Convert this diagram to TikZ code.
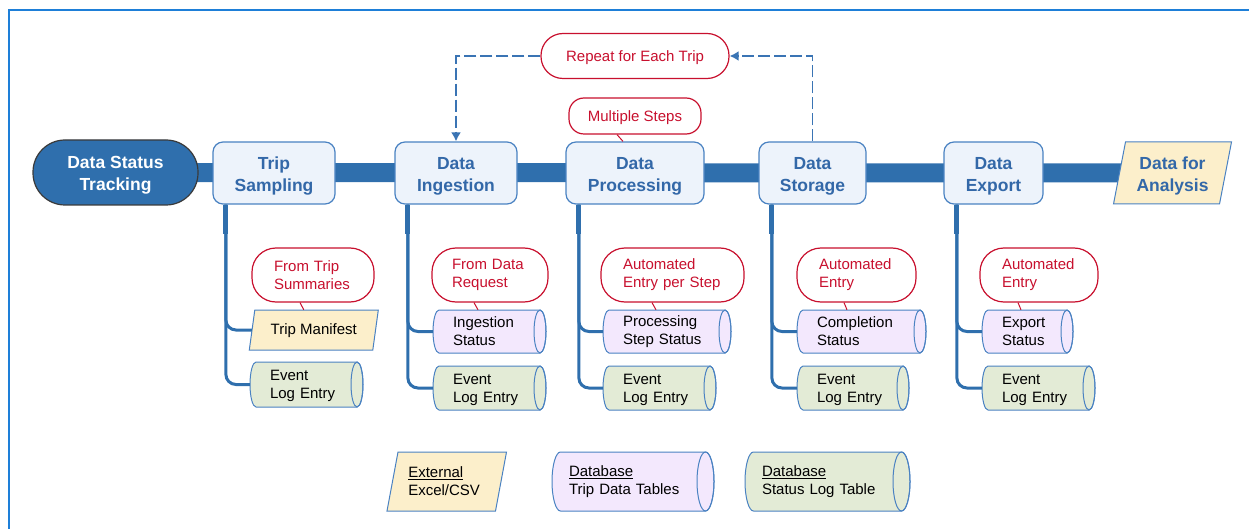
\documentclass[tikz,border=0pt]{standalone}
\usepackage{fontspec}
\setmainfont{Liberation Sans}
\usetikzlibrary{arrows.meta,backgrounds}
\definecolor{mainblue}{HTML}{2F6FAD}
\definecolor{boxfill}{HTML}{EDF3FB}
\definecolor{boxline}{HTML}{4A82C2}
\definecolor{labelblue}{HTML}{3368A8}
\definecolor{calloutred}{HTML}{C8102E}
\definecolor{yellowfill}{HTML}{FCEFCB}
\definecolor{lavfill}{HTML}{F3E8FD}
\definecolor{greenfill}{HTML}{E3EBD6}
\definecolor{framecol}{HTML}{1E7FD8}
\definecolor{darkedge}{HTML}{3A3A3A}
\definecolor{dashblue}{HTML}{3A74B4}
\newcommand\bigbold{\fontsize{17.5}{22}\selectfont\bfseries}
\newcommand\smalltxt{\fontsize{15}{18}\selectfont}
% lower a line of text without changing its box
\newcommand\lo[2][3pt]{\raisebox{-#1}[\height][\depth]{#2}}
% cylinder: cx, cy, w, h, fill, end x-radius
\newcommand\mycyl[6]{%
  \filldraw[cylline, fill=#5] ({#1+#3/2-#6},{#2-#4/2}) arc[start angle=90, end angle=-90, x radius=#6pt, y radius={#4/2*1pt}] -- ({#1-#3/2+#6},{#2+#4/2}) arc[start angle=270, end angle=90, x radius=#6pt, y radius={#4/2*1pt}] -- cycle;
  \draw[cylline] ({#1+#3/2-#6},{#2}) ellipse[x radius=#6pt, y radius={#4/2*1pt}];
}
% parallelogram: cx, cy, mid width, h, slant, fill
\newcommand\mypara[6]{%
  \filldraw[paraline, fill=#6] ({#1-#3/2-#5/2},{#2+#4/2}) -- ({#1+#3/2-#5/2},{#2+#4/2}) -- ({#1+#3/2+#5/2},{#2-#4/2}) -- ({#1-#3/2+#5/2},{#2-#4/2}) -- cycle;
}
\begin{document}
\begin{tikzpicture}[x=1pt, y=-1pt,
  cylline/.style={draw=boxline, line width=1pt},
  paraline/.style={draw=boxline, line width=1pt},
  startbox/.style={draw=darkedge, fill=mainblue, line width=1.2pt, rounded corners=32pt, minimum width=165pt, minimum height=65pt, inner sep=0pt, text=white, font=\bigbold, align=center},
  procbox/.style={draw=boxline, fill=boxfill, line width=1.2pt, rounded corners=10pt, minimum height=62pt, inner sep=0pt, align=center, text=labelblue, font=\bigbold},
  paratext/.style={inner sep=0pt, align=center},
  roundcall/.style={draw=calloutred, fill=white, line width=1.2pt, text=calloutred, font=\smalltxt, inner sep=0pt, align=center},
  callbox/.style={draw=calloutred, fill=white, line width=1.2pt, rounded corners=24pt, minimum height=54pt, text=calloutred, font=\smalltxt, align=left, inner ysep=0pt, inner xsep=22pt},
  itemtext/.style={inner xsep=20pt, inner ysep=0pt, align=left, font=\smalltxt, text=black},
  calloutline/.style={draw=calloutred, line width=1pt},
  branch/.style={draw=mainblue, line width=3pt, rounded corners=10pt},
  branchtop/.style={draw=mainblue, line width=5pt},
  bar/.style={draw=mainblue, line width=19pt},
  dasharrow/.style={draw=dashblue, line width=1.8pt, dash pattern=on 12pt off 4pt, -{Latex[length=9pt,width=10pt]}},
  framestyle/.style={draw=framecol, line width=1.5pt}]
\useasboundingbox (0,0) rectangle (1249,529);
\draw[framestyle] (9,529) -- (9,10) -- (1249,10);

% main process row
\node[startbox] (dst) at (115.5,172.5) {\lo{Data Status}\\\lo{Tracking}};
\node[procbox, minimum width=122pt] (ts) at (274,173) {\lo{Trip}\\\lo{Sampling}};
\node[procbox, minimum width=122pt] (di) at (456,173) {\lo{Data}\\\lo{Ingestion}};
\node[procbox, minimum width=138pt] (dp) at (635,173) {\lo{Data}\\\lo{Processing}};
\node[procbox, minimum width=107pt] (dsto) at (812.5,173) {\lo{Data}\\\lo{Storage}};
\node[procbox, minimum width=99pt] (dex) at (993.5,173) {\lo{Data}\\\lo{Export}};
\mypara{1172.5}{173}{106}{62}{12}{yellowfill}
\node[paratext, minimum width=106pt, minimum height=62pt, text=labelblue, font=\bigbold] (dfa) at (1172.5,173) {\lo{Data for}\\\lo{Analysis}};

% top notes
\node[roundcall, minimum width=188pt, minimum height=45pt, rounded corners=22pt] (rep) at (635,56) {\lo[2pt]{Repeat for Each Trip}};
\node[roundcall, minimum width=132pt, minimum height=36pt, rounded corners=15pt] (ms) at (635,116) {\lo[2pt]{Multiple Steps}};

% callouts
\node[callbox, text width=78pt] (c1) at (313,275) {From Trip\\Summaries};
\node[callbox, inner xsep=20pt, text width=76pt] (c2) at (490,275) {From Data\\Request};
\node[callbox, text width=99pt] (c3) at (672.5,275) {Automated\\Entry per Step};
\node[callbox, text width=75pt] (c4) at (856.5,275) {Automated\\Entry};
\node[callbox, text width=74pt] (c5) at (1039,275) {Automated\\Entry};

% first row of records
\mypara{313.8}{330}{123.5}{40}{5.5}{yellowfill}
\node[paratext, minimum width=123.5pt, minimum height=40pt, font=\smalltxt] (tm) at (313.8,330) {\lo[1pt]{Trip Manifest}};
\mycyl{489.5}{331.5}{113}{43}{lavfill}{6}
\node[itemtext, text width=73pt, minimum height=43pt] (is) at (489.5,331.5) {Ingestion\\Status};
\mycyl{667}{331.5}{128}{43}{lavfill}{6}
\node[itemtext, text width=88pt, minimum height=43pt] (pss) at (667,331.5) {Processing\\Step Status};
\mycyl{861.5}{331.5}{129}{43}{lavfill}{6}
\node[itemtext, text width=89pt, minimum height=43pt] (cs) at (861.5,331.5) {Completion\\Status};
\mycyl{1027.5}{331.5}{91}{43}{lavfill}{6}
\node[itemtext, text width=51pt, minimum height=43pt] (es) at (1027.5,331.5) {Export\\Status};

% event log entries
\mycyl{306.5}{384.5}{113}{45}{greenfill}{6}
\node[itemtext, text width=73pt, minimum height=45pt] (e1) at (306.5,384.5) {\lo[1.5pt]{Event}\\\lo[1.5pt]{Log Entry}};
\mycyl{489.5}{388}{113}{44}{greenfill}{6}
\node[itemtext, text width=73pt, minimum height=44pt] (e2) at (489.5,388) {\lo[1.5pt]{Event}\\\lo[1.5pt]{Log Entry}};
\mycyl{659.5}{388}{113}{44}{greenfill}{6}
\node[itemtext, text width=73pt, minimum height=44pt] (e3) at (659.5,388) {\lo[1.5pt]{Event}\\\lo[1.5pt]{Log Entry}};
\mycyl{853}{388}{112}{44}{greenfill}{6}
\node[itemtext, text width=72pt, minimum height=44pt] (e4) at (853,388) {\lo[1.5pt]{Event}\\\lo[1.5pt]{Log Entry}};
\mycyl{1038.5}{388}{113}{44}{greenfill}{6}
\node[itemtext, text width=73pt, minimum height=44pt] (e5) at (1038.5,388) {\lo[1.5pt]{Event}\\\lo[1.5pt]{Log Entry}};

% legend
\mypara{446.75}{481.5}{108.5}{59}{11}{yellowfill}
\node[itemtext, inner xsep=15.5pt, text width=77pt, minimum height=59pt] (lx) at (446.75,481.5) {\underline{External}\\Excel/CSV};
\mycyl{633}{481.5}{162}{59}{lavfill}{8.5}
\node[itemtext, inner xsep=17pt, text width=128pt, minimum height=59pt] (ldb1) at (633,481.5) {\underline{Database}\\Trip Data Tables};
\mycyl{827.5}{481.5}{165}{59}{greenfill}{8.5}
\node[itemtext, inner xsep=17pt, text width=131pt, minimum height=59pt] (ldb2) at (827.5,481.5) {\underline{Database}\\Status Log Table};

% main bar
\begin{scope}[on background layer]
\draw[bar] (dst.center) -- (dfa.center);
\end{scope}

% loop arrows
\draw[dasharrow] (rep.west) -| (di.north);
\draw[dasharrow] (dsto.north) |- (rep.east);

% callout pointers
\draw[calloutline] ([xshift=-18pt]ms.south) -- ([xshift=-12pt]dp.north);
\draw[calloutline] ([xshift=-13pt]c1.south) -- ([xshift=-10pt]tm.north);
\draw[calloutline] ([xshift=-16pt]c2.south) -- ([xshift=-11.5pt]is.north);
\draw[calloutline] ([xshift=-20.5pt]c3.south) -- ([xshift=-11pt]pss.north);
\draw[calloutline] ([xshift=-12.5pt]c4.south) -- ([xshift=-14.5pt]cs.north);
\draw[calloutline] ([xshift=-21pt]c5.south) -- ([xshift=-6.5pt]es.north);

% branches
\draw[branch] ([xshift=13.5pt]ts.south west) |- (tm.west);
\draw[branch] ([xshift=13.5pt]ts.south west) |- (e1.west);
\draw[branchtop] ([xshift=13.5pt]ts.south west) -- ++(0,29);
\draw[branch] ([xshift=13.5pt]di.south west) |- (is.west);
\draw[branch] ([xshift=13.5pt]di.south west) |- (e2.west);
\draw[branchtop] ([xshift=13.5pt]di.south west) -- ++(0,29);
\draw[branch] ([xshift=13.5pt]dp.south west) |- (pss.west);
\draw[branch] ([xshift=13.5pt]dp.south west) |- (e3.west);
\draw[branchtop] ([xshift=13.5pt]dp.south west) -- ++(0,29);
\draw[branch] ([xshift=13.5pt]dsto.south west) |- (cs.west);
\draw[branch] ([xshift=13.5pt]dsto.south west) |- (e4.west);
\draw[branchtop] ([xshift=13.5pt]dsto.south west) -- ++(0,29);
\draw[branch] ([xshift=13.5pt]dex.south west) |- (es.west);
\draw[branch] ([xshift=13.5pt]dex.south west) |- (e5.west);
\draw[branchtop] ([xshift=13.5pt]dex.south west) -- ++(0,29);
\end{tikzpicture}
\end{document}
